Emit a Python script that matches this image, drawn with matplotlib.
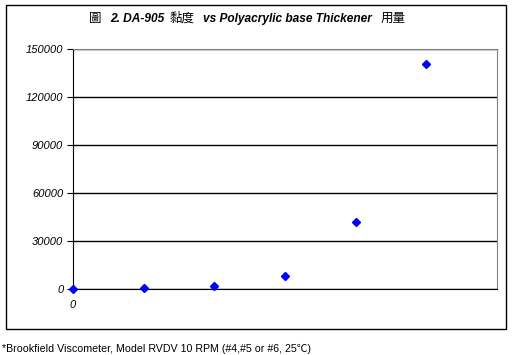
import matplotlib.pyplot as plt
from matplotlib.patches import Rectangle

# 用量 (x) vs 黏度 (y)
dosis = [0, 1, 2, 3, 4, 5]
viscosidade = [0, 300, 1500, 8000, 42000, 140500]
yticks = [0, 30000, 60000, 90000, 120000, 150000]

W, H = 517, 355
fig = plt.figure(figsize=(W / 100, H / 100), dpi=100)

# moldura externa
fig.patches.append(Rectangle((6 / W, 26 / H), 500 / W, 324 / H, transform=fig.transFigure,
                             fill=False, edgecolor="black", linewidth=1.0))

ax = fig.add_axes([73 / W, 66.3 / H, 424 / W, 240 / H])
ax.set_xlim(0, 6)
ax.set_ylim(0, 150000)
ax.set_yticks(yticks)
ax.set_yticklabels([str(v) for v in yticks], fontstyle="italic", family="Liberation Sans", fontsize=8)
ax.set_xticks([0])
ax.set_xticklabels(["0"], fontstyle="italic", family="Liberation Sans", fontsize=8)
ax.tick_params(axis="y", length=4, width=0.8, pad=3)
ax.tick_params(axis="x", length=0, pad=8)
ax.yaxis.grid(True, color="black", linewidth=1.0)
ax.set_axisbelow(True)
for s in ["top", "right"]:
    ax.spines[s].set_color("#808080")
for s in ["left", "bottom"]:
    ax.spines[s].set_color("black")
    ax.spines[s].set_zorder(2.5)

ax.plot(dosis, viscosidade, linestyle="none", marker="D", markersize=4.3,
        color="#0000FF", clip_on=False, zorder=3)

# título com estilos misturados
cjk = ["Noto Sans CJK TC", "DejaVu Sans"]
lat = ["Liberation Sans", "DejaVu Sans"]
yb = 1 - 22 / H
partes = [
    ("圖", 89, cjk, "normal", "normal", 9),
    ("2. DA-905", 110, lat, "bold", "italic", 8.6),
    ("黏度", 170, cjk, "normal", "normal", 9),
    ("vs Polyacrylic base Thickener", 203, lat, "bold", "italic", 8.6),
    ("用量", 381, cjk, "normal", "normal", 9),
]
for txt, x, fam, peso, estilo, tam in partes:
    fig.text(x / W, yb, txt, family=fam, fontweight=peso, fontstyle=estilo,
             fontsize=tam, va="baseline", ha="left")

fig.text(2 / W, 1 - 352 / H, "*Brookfield Viscometer, Model RVDV 10 RPM (#4,#5 or #6, 25℃)",
         family=["Liberation Sans", "Noto Sans CJK TC"], fontsize=7.7, va="baseline", ha="left")

plt.savefig("out.png", dpi=100)
